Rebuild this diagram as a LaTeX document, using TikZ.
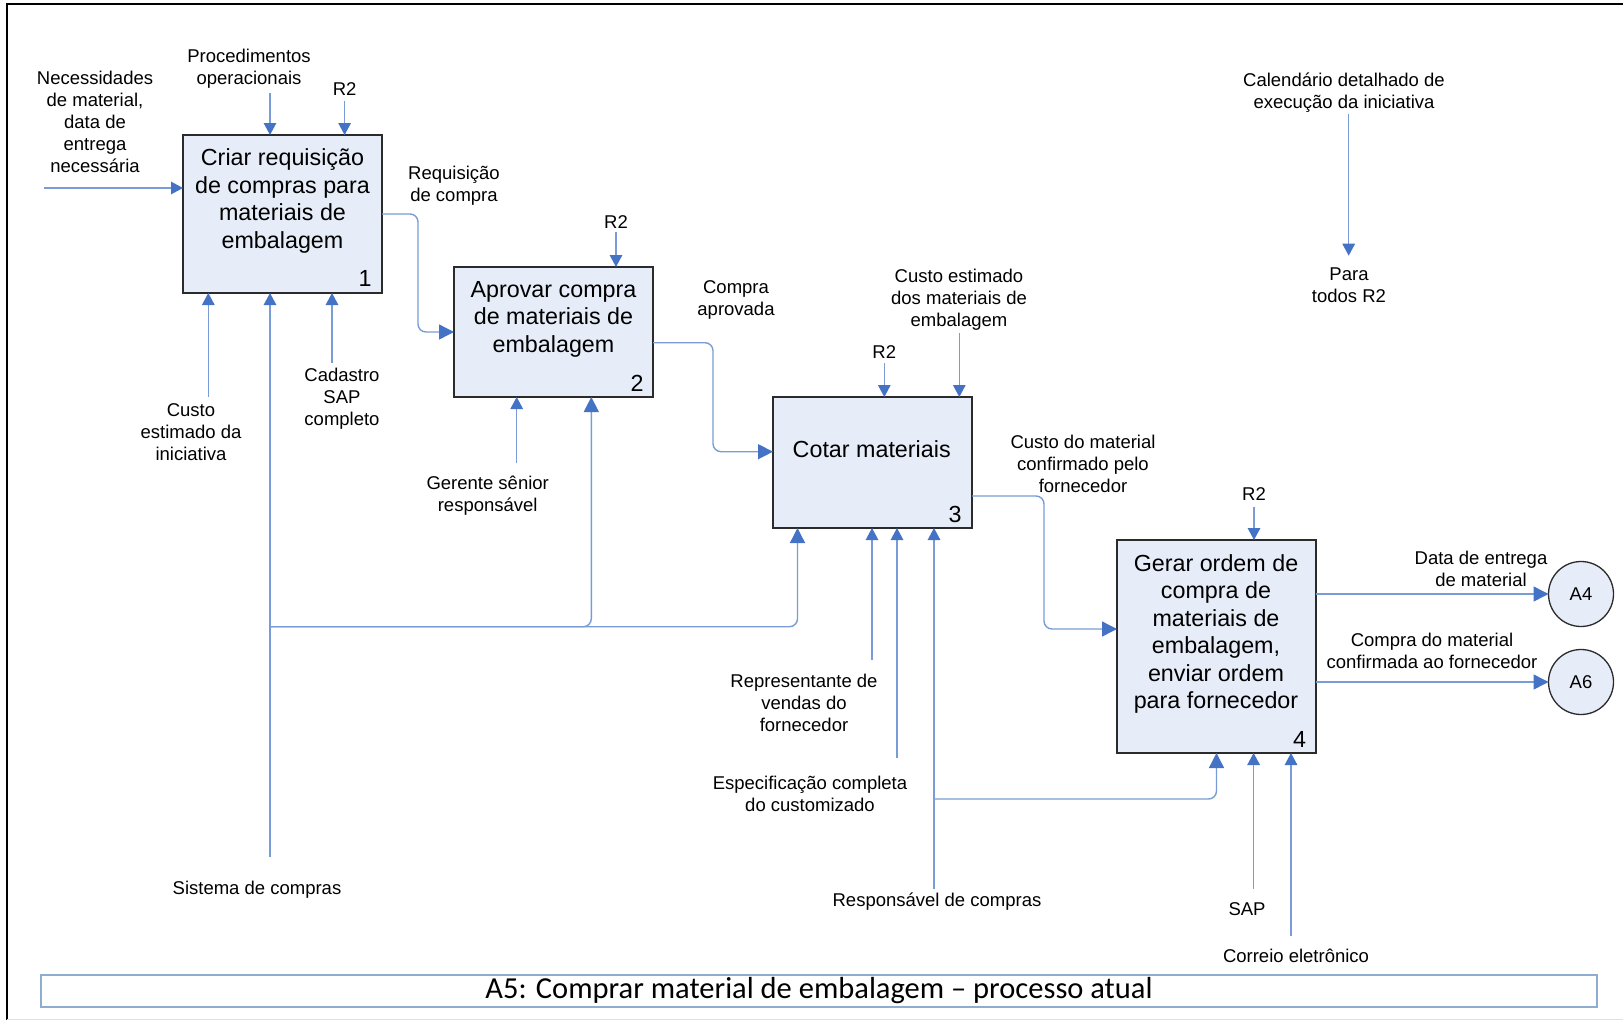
\documentclass[tikz,border=0pt]{standalone}
\usepackage{fontspec}
\setmainfont{Liberation Sans}
\newfontfamily\titlefont{Carlito}
\usetikzlibrary{arrows.meta}
\definecolor{lineblue}{HTML}{7A9CD6}
\definecolor{headblue}{HTML}{4472C4}
\definecolor{boxfill}{HTML}{E7EDF8}
\definecolor{boxline}{HTML}{2B2B2B}
\definecolor{titleline}{HTML}{8EADCF}
\begin{document}
\begin{tikzpicture}[x=1pt,y=-1pt,
  lbl/.style={align=center, inner sep=0pt, yshift=-1.2pt, font=\fontsize{18.5}{22}\selectfont},
  boxtxt/.style={align=center, inner sep=0pt, yshift=-1pt, font=\fontsize{23.3}{27.5}\selectfont},
  numtxt/.style={inner sep=0pt, font=\fontsize{23.3}{27.5}\selectfont},
  actbox/.style={draw=boxline, fill=boxfill, line width=1.5pt, minimum width=199pt, inner sep=0pt, outer sep=0pt},
  refcirc/.style={circle, draw=boxline, fill=boxfill, line width=1.3pt, minimum size=65pt, inner sep=0pt, outer sep=0pt, font=\fontsize{18.5}{22}\selectfont},
  flow/.style={draw=lineblue, line width=1.4pt, -{Triangle[length=12pt,width=12.5pt,color=headblue]}},
  bigflow/.style={draw=lineblue, line width=1.4pt, -{Triangle[length=15pt,width=15pt,color=headblue]}},
  elbow/.style={rounded corners=8pt}]
\useasboundingbox (0,0) rectangle (1623,1020);

% page frame
\draw[black, line width=1.6pt] (7,1020) -- (7,4) -- (1623,4);
\draw[black!12, line width=1pt] (7,1019.5) -- (1623,1019.5);

% activity boxes
\node[actbox, minimum height=158pt] (b1) at (282.5,214) {};
\node[actbox, minimum height=130pt] (b2) at (553.5,332) {};
\node[actbox, minimum height=131pt] (b3) at (872.5,462.5) {};
\node[actbox, minimum height=213pt] (b4) at (1216.5,646.5) {};

\node[boxtxt] (b1t) at (282.5,200) {Criar requisição\\de compras para\\materiais de\\embalagem};
\node[boxtxt] (b2t) at (553.5,318) {Aprovar compra\\de materiais de\\embalagem};
\node[boxtxt] (b3t) at (871.7,448) {Cotar materiais};
\node[boxtxt] (b4t) at (1216,633) {Gerar ordem de\\compra de\\materiais de\\embalagem,\\enviar ordem\\para fornecedor};

\node[numtxt] (b1n) at (365,278) {1};
\node[numtxt] (b2n) at (637,383) {2};
\node[numtxt] (b3n) at (955,514) {3};
\node[numtxt] (b4n) at (1299.6,739) {4};

% off-page references
\node[refcirc] (a4) at (1581,594) {A4};
\node[refcirc] (a6) at (1581,682) {A6};

% free ends of the arrows
\coordinate (in1) at (43.6,188);
\coordinate (proc) at (270,93);
\coordinate (r2a) at (344.6,101);
\coordinate (cei) at (208.3,396.7);
\coordinate (cad) at (332,363);
\coordinate (sys) at (270,857);
\coordinate (sysj) at (270,626.7);
\coordinate (s2) at (591.3,626.7);
\coordinate (s3) at (797.5,626.7);
\coordinate (r2b) at (616,231.7);
\coordinate (ger) at (516.7,463);
\coordinate (r2c) at (884.3,363);
\coordinate (cem) at (959.3,333);
\coordinate (rep) at (872,660);
\coordinate (esp) at (897,758);
\coordinate (resp) at (934,889);
\coordinate (respj) at (934,799);
\coordinate (r2d) at (1254,506.7);
\coordinate (sap) at (1253.6,889);
\coordinate (mail) at (1291,935.7);
\coordinate (cal) at (1348.7,114);
\coordinate (caltip) at (1348.7,255.7);

% inputs and outputs
\draw[flow] (in1) -- (in1 -| b1.west);
\draw[bigflow, elbow] (b1.east) -- ++(36,0) |- (b2.west);
\draw[bigflow, elbow] ([yshift=-10.7pt]b2.east) -- ++(60,0) |- ([yshift=10.8pt]b3.west);
\draw[bigflow, elbow] ([yshift=-33.5pt]b3.east) -- ++(72,0) |- ([yshift=17.5pt]b4.west);
\draw[bigflow] (b4.east |- a4.west) -- (a4.west);
\draw[bigflow] (b4.east |- a6.west) -- (a6.west);

% controls
\draw[flow] (proc) -- (proc |- b1.north);
\draw[flow] (r2a) -- (r2a |- b1.north);
\draw[flow] (r2b) -- (r2b |- b2.north);
\draw[flow] (r2c) -- (r2c |- b3.north);
\draw[flow] (cem) -- (cem |- b3.north);
\draw[flow] (r2d) -- (r2d |- b4.north);
\draw[flow] (cal) -- (caltip);

% mechanisms
\draw[flow] (cei) -- (cei |- b1.south);
\draw[flow] (sys) -- (sys |- b1.south);
\draw[flow] (cad) -- (cad |- b1.south);
\draw[bigflow, elbow] (sysj) -| (s2 |- b2.south);
\draw[bigflow, elbow] (sysj) -| (s3 |- b3.south);
\draw[flow] (ger) -- (ger |- b2.south);
\draw[flow] (rep) -- (rep |- b3.south);
\draw[flow] (esp) -- (esp |- b3.south);
\draw[flow] (resp) -- (resp |- b3.south);
\draw[bigflow, elbow] (respj) -| (b4.south);
\draw[flow] (sap) -- (sap |- b4.south);
\draw[flow] (mail) -- (mail |- b4.south);

% arrow labels
\node[lbl] (l1) at (95,121) {Necessidades\\de material,\\data de\\entrega\\necessária};
\node[lbl] (l2) at (249,68) {Procedimentos\\operacionais};
\node[lbl] (l3) at (344.6,88) {R2};
\node[lbl] (l4) at (454,184.5) {Requisição\\de compra};
\node[lbl] (l5) at (191,430.5) {Custo\\estimado da\\iniciativa};
\node[lbl] (l6) at (342,398) {Cadastro\\SAP\\completo};
\node[lbl] (l7) at (257,889) {Sistema de compras};
\node[lbl] (l8) at (616,220.7) {R2};
\node[lbl] (l9) at (487.7,494.4) {Gerente sênior\\responsável};
\node[lbl] (l10) at (736,299) {Compra\\aprovada};
\node[lbl] (l11) at (884.3,350.7) {R2};
\node[lbl] (l12) at (959,299) {Custo estimado\\dos materiais de\\embalagem};
\node[lbl] (l13) at (1083,462.3) {Custo do material\\confirmado pelo\\fornecedor};
\node[lbl] (l14) at (804,702) {Representante de\\vendas do\\fornecedor};
\node[lbl] (l15) at (810,792.4) {Especificação completa\\do customizado};
\node[lbl] (l16) at (937,900.7) {Responsável de compras};
\node[lbl] (l17) at (1254,493) {R2};
\node[lbl] (l18) at (1481,568) {Data de entrega\\de material};
\node[lbl] (l19) at (1432,650) {Compra do material\\confirmada ao fornecedor};
\node[lbl] (l20) at (1247,908) {SAP};
\node[lbl] (l21) at (1296,955) {Correio eletrônico};
\node[lbl] (l22) at (1344,91) {Calendário detalhado de\\execução da iniciativa};
\node[lbl] (l23) at (1349,284) {Para\\todos R2};

% title bar
\node[draw=titleline, line width=2.5pt, minimum width=1556pt, minimum height=32pt, inner sep=0pt,
      font=\titlefont\fontsize{30.5}{34}\selectfont] (title) at (819,991)
  {A5: Comprar material de embalagem – processo atual};
\end{tikzpicture}
\end{document}
